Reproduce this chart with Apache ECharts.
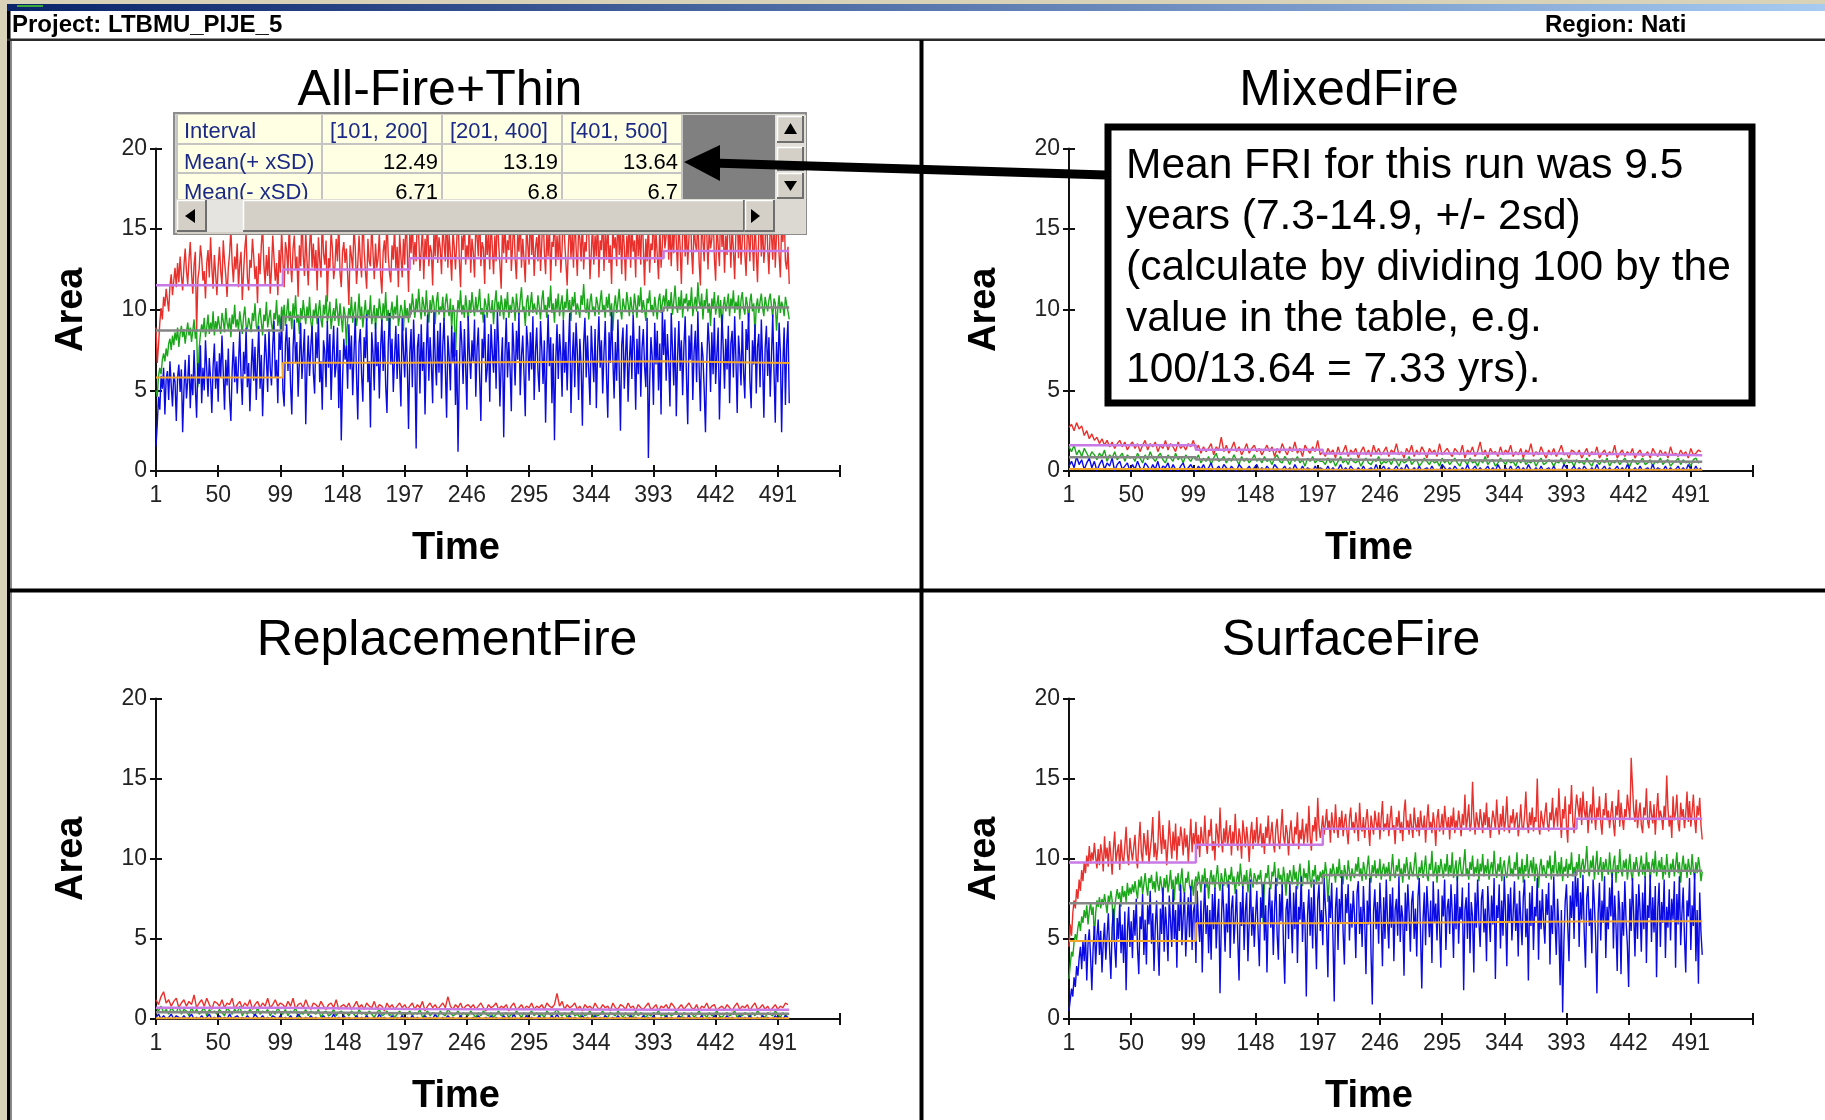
<!DOCTYPE html>
<html><head><meta charset="utf-8">
<script src="https://cdn.jsdelivr.net/npm/echarts@6/dist/echarts.min.js"></script>
<style>html,body{margin:0;padding:0;background:#fff}#c{width:1825px;height:1120px}</style>
</head><body><div id="c"></div>
<script>
// ================= DATA =================
const panelTitles = ['All-Fire+Thin', 'MixedFire', 'ReplacementFire', 'SurfaceFire'];
const xTickLabels = ['1','50','99','148','197','246','295','344','393','442','491'];
const intervalStarts = [1, 101, 201, 401];
const lastYear = 500;
const headerLeft = 'Project: LTBMU_PIJE_5';
const headerRight = 'Region: Nati';
const tableRowLabels = ['Interval', 'Mean(+ xSD)', 'Mean(- xSD)'];
const noteText = 'Mean FRI for this run was 9.5\nyears (7.3-14.9, +/- 2sd)\n(calculate by dividing 100 by the\nvalue in the table, e.g.\n100/13.64 = 7.33 yrs).';

// ---- All-Fire+Thin : one value per year 1..500 ----
const allFireUpper = [
8.9,6.7,7.8,9.2,10.1,9.4,10.8,10.2,11.3,10.6,9.9,11.5,12.2,10.9,11.8,12.6,11.4,12.9,11.7,13.3,12.1,11.2,12.7,13.8,12.4,
11.6,13.1,14.2,12.3,11.0,12.8,13.6,8.6,11.9,12.5,14.0,13.2,11.8,12.4,10.7,12.9,13.7,12.0,14.5,12.6,11.3,13.4,12.2,10.9,12.7,
13.9,12.4,11.5,14.3,13.0,12.1,10.8,12.6,13.5,15.0,12.9,11.7,13.3,12.5,14.1,11.4,12.8,13.6,10.6,12.3,13.8,14.7,12.0,11.2,13.1,
12.6,14.4,13.3,11.9,12.7,10.4,13.5,12.2,14.0,15.2,12.8,11.6,13.4,12.1,13.9,11.0,12.5,14.6,13.2,11.8,12.9,10.9,13.7,12.3,14.9,
13.0,11.4,14.2,13.6,12.2,15.5,12.9,11.7,13.8,14.6,12.5,13.3,10.8,14.0,12.7,15.9,13.4,12.1,14.8,13.0,11.5,13.9,15.3,12.6,14.1,
12.4,13.7,11.2,14.5,13.1,12.0,15.7,13.5,12.8,14.3,10.5,13.2,12.6,14.9,13.8,11.9,12.7,14.4,13.0,15.6,12.3,11.4,13.6,14.2,12.9,
13.8,12.2,10.3,14.0,13.3,12.5,15.1,13.9,11.6,12.8,14.6,13.1,12.0,16.2,13.7,12.4,11.3,14.4,13.0,12.7,15.4,13.5,11.9,14.1,12.6,
13.2,14.8,12.1,11.0,13.6,14.3,12.9,15.8,13.4,12.3,11.7,14.0,13.1,15.2,12.5,13.9,11.4,14.7,13.3,12.0,14.4,12.8,16.0,13.6,11.1,
14.9,13.5,15.6,12.8,14.2,13.0,16.3,14.6,12.4,13.7,15.1,11.9,14.4,13.2,15.9,12.7,14.0,13.6,11.5,14.8,13.3,16.1,12.9,14.5,13.8,
12.2,15.3,14.1,13.0,16.6,12.6,14.7,13.4,11.8,15.0,13.9,12.5,14.3,16.0,13.1,11.4,14.6,13.7,15.5,12.8,14.0,13.2,15.8,12.3,14.4,
13.6,12.0,15.2,14.5,13.3,16.4,12.7,14.2,13.8,11.6,15.0,13.4,14.8,12.5,15.7,13.9,12.2,14.6,13.0,16.2,14.1,12.8,11.3,14.9,13.5,
15.4,12.9,14.3,13.7,16.1,12.4,14.0,15.6,13.2,11.9,14.7,13.6,15.9,12.6,14.4,13.1,11.7,15.2,14.0,12.8,16.5,13.4,14.9,12.1,13.8,
14.5,13.0,15.7,12.4,14.1,16.3,13.6,12.2,14.8,13.3,15.4,11.8,14.2,13.9,16.0,12.7,14.6,13.1,15.1,12.3,13.8,16.7,14.3,12.9,11.5,
14.0,15.5,13.2,14.7,12.6,16.2,13.9,12.1,15.0,14.4,13.0,15.8,12.5,14.2,13.6,16.4,14.9,11.9,13.5,15.3,12.8,14.6,13.3,15.9,12.0,
14.3,13.7,16.1,12.4,14.8,13.1,15.6,12.9,14.0,11.6,15.2,13.8,14.5,12.7,16.3,13.4,14.9,12.2,15.4,13.9,11.8,14.6,13.2,16.0,12.6,
15.1,13.6,14.3,12.0,15.8,13.3,14.7,12.8,16.5,13.9,11.5,14.4,13.0,15.5,12.3,14.1,13.7,16.2,12.9,14.8,13.4,11.9,15.3,12.6,14.0,
15.9,13.8,14.6,16.7,13.1,15.2,12.7,14.9,13.5,16.3,14.2,12.4,15.6,13.9,11.6,14.8,16.1,13.3,15.0,12.8,14.5,16.8,13.7,12.2,15.4,
14.1,13.6,16.0,12.9,11.5,15.7,14.3,13.0,16.5,14.7,12.5,15.2,13.8,14.4,16.2,13.2,11.8,15.5,14.0,12.7,16.6,13.9,15.1,12.3,14.6,
13.4,16.4,14.8,12.6,15.3,13.7,11.9,14.9,16.1,13.2,15.6,12.8,14.3,16.9,13.5,12.1,15.0,14.5,13.0,16.3,14.2,12.4,15.8,13.6,11.7,
14.7,16.0,13.3,15.4,12.9,14.1,16.5,13.8,12.2,15.1,14.6,13.1,16.2,12.6,14.8,15.7,13.4,12.0,15.3,14.2,16.1,13.0,12.5,13.9,11.6];
const allFireMean = [
5.0,4.6,5.9,6.4,6.0,6.9,7.3,6.8,7.6,7.1,7.9,8.2,7.5,8.4,7.8,8.6,8.1,8.9,7.7,8.5,9.0,8.3,8.8,7.9,8.6,
9.2,8.4,8.9,8.0,8.7,9.4,8.2,8.8,5.2,7.6,8.5,9.1,8.6,9.5,8.3,8.9,9.7,8.5,9.2,8.7,9.9,8.4,9.3,8.8,9.6,
9.0,8.5,9.8,9.3,8.6,10.1,9.2,8.8,9.5,8.3,9.7,9.1,10.3,8.9,9.4,8.7,9.9,9.2,8.5,9.6,10.2,9.0,8.8,9.5,9.1,
8.6,9.8,9.3,10.4,9.0,8.7,9.6,10.1,9.2,8.4,9.7,9.3,10.5,8.9,9.5,10.0,9.1,8.6,9.8,9.4,10.6,9.0,9.7,8.8,10.2,
9.5,10.3,9.0,9.8,10.7,9.3,9.9,8.8,10.4,9.6,10.9,9.2,9.7,8.5,10.1,9.4,10.6,9.8,9.1,10.2,9.5,10.8,9.3,8.7,10.0,
9.6,10.4,9.1,9.9,10.6,9.4,8.9,10.3,9.7,10.9,9.2,9.8,10.5,8.8,9.6,10.1,9.3,10.7,9.9,9.0,10.4,9.5,8.6,10.2,9.7,
7.8,9.4,10.1,9.6,10.8,9.2,9.9,10.5,9.0,9.7,11.0,9.4,10.2,8.9,9.8,10.6,9.3,10.0,9.6,10.9,9.1,9.7,10.3,8.8,10.1,
9.5,10.7,9.9,9.2,10.4,9.6,11.1,9.3,10.0,8.6,9.8,10.5,9.4,10.2,9.7,10.9,9.0,9.6,10.3,9.9,8.7,10.6,9.5,10.1,9.2,
10.4,9.7,11.0,10.2,9.5,10.7,9.9,11.3,10.1,9.4,10.8,10.3,9.6,11.2,10.0,9.2,10.6,9.8,10.9,10.4,9.1,10.5,11.1,9.7,10.2,
9.9,10.8,9.3,10.4,11.0,10.1,9.6,10.7,8.8,10.3,9.9,7.1,9.4,10.6,10.0,11.2,9.7,10.3,9.5,10.9,10.1,9.3,10.6,9.8,11.1,
10.2,9.6,10.8,9.9,10.4,11.3,9.7,10.1,9.2,10.7,10.3,9.5,11.0,10.0,9.8,10.6,9.1,10.4,11.2,9.9,10.5,9.6,10.9,10.2,9.4,
10.7,10.0,11.1,9.5,10.3,9.8,10.8,10.4,9.3,11.0,10.1,9.7,10.6,11.4,9.9,10.2,9.0,10.5,10.9,9.6,10.3,11.1,9.8,10.4,10.0,
9.7,10.9,10.2,9.4,10.6,11.2,9.9,10.3,9.5,10.8,10.1,11.5,9.8,10.4,9.2,10.7,10.0,11.0,9.6,10.3,10.9,9.4,10.5,10.1,11.3,
9.9,10.6,9.3,10.8,10.2,11.1,9.7,10.4,10.0,9.5,10.9,10.3,11.6,10.1,9.8,10.7,9.4,10.5,11.0,9.9,10.2,9.6,10.8,10.4,9.7,
10.5,11.2,9.9,10.3,9.5,10.8,10.1,11.0,9.6,10.4,8.7,10.2,10.9,9.8,10.5,11.3,10.0,9.4,10.7,10.2,9.9,11.1,10.4,9.6,10.8,
10.1,9.7,11.0,10.3,9.5,10.9,10.2,11.4,9.8,10.6,10.0,9.3,10.7,10.4,11.2,9.9,10.3,9.6,10.8,10.1,9.4,10.6,11.0,9.8,10.4,
10.9,10.2,11.3,9.9,10.6,10.1,11.1,9.7,10.5,11.5,10.3,9.8,10.8,10.0,11.2,9.5,10.7,10.4,11.0,9.9,10.6,10.2,11.4,9.6,10.3,
10.8,9.9,11.7,10.5,10.1,11.0,9.4,10.6,10.2,11.3,9.8,10.4,9.0,10.7,10.1,11.1,9.7,10.3,10.9,9.5,10.6,8.6,10.2,10.8,9.9,
10.4,11.0,9.6,10.7,10.2,11.2,9.8,10.5,10.0,10.9,9.4,10.6,11.1,10.1,9.7,10.8,10.3,9.2,10.5,11.0,9.9,10.4,8.4,10.2,10.7,
9.8,10.5,11.0,10.1,9.6,10.8,10.3,9.9,10.6,11.0,10.2,9.5,10.7,10.4,8.7,10.1,10.9,9.8,10.5,10.2,9.6,10.8,10.3,9.9,9.4];
const allFireLower = [
1.5,2.9,4.6,3.8,5.9,5.1,6.4,3.5,5.7,6.2,4.4,6.8,5.3,4.0,6.1,5.5,3.1,5.8,6.6,4.9,6.3,2.4,5.0,6.9,4.5,
5.6,7.2,3.9,6.0,4.7,7.5,5.2,3.3,6.7,5.4,7.8,4.2,6.4,5.0,8.1,6.3,4.6,7.0,5.7,3.6,6.5,7.9,5.1,6.8,4.3,
7.3,5.8,8.4,6.1,3.8,6.9,5.3,7.6,4.5,3.1,6.2,8.0,5.5,7.1,4.8,6.6,8.7,5.9,4.1,7.4,6.0,8.9,5.2,6.7,3.7,
6.3,8.2,5.6,7.7,4.4,6.8,9.0,5.1,7.2,3.4,6.1,8.5,7.0,4.9,8.8,6.4,5.3,7.8,9.3,5.8,6.9,4.2,8.6,7.5,9.6,
5.0,4.0,7.9,9.1,6.2,8.3,5.4,3.5,7.6,9.4,6.7,8.0,4.6,6.9,9.2,5.7,7.3,8.8,2.9,6.5,8.4,5.9,7.7,9.0,6.1,
4.8,8.6,7.0,9.5,5.5,6.8,3.8,8.1,7.4,5.2,9.3,6.4,8.5,4.4,7.1,9.0,5.8,6.6,8.9,3.9,7.5,1.9,5.6,8.2,6.9,
7.8,5.1,9.1,6.3,8.4,4.7,7.2,9.6,5.9,3.2,7.9,8.8,6.0,4.3,8.3,7.0,9.7,5.5,6.8,2.7,8.6,7.3,5.0,9.2,6.5,
8.0,4.5,7.6,9.4,6.2,8.7,5.3,3.6,7.8,9.8,6.6,8.2,4.9,7.1,9.0,5.7,8.5,6.3,4.0,9.5,7.4,5.8,8.9,6.7,2.6,
7.3,8.8,5.2,9.4,6.9,1.4,7.7,8.5,4.8,9.1,6.2,8.0,3.5,7.4,9.7,5.6,8.3,6.6,4.2,9.9,7.0,5.3,8.7,6.1,9.2,
4.5,7.8,9.5,6.4,3.3,8.4,7.1,5.0,9.0,6.7,8.6,4.1,7.5,1.2,6.0,9.3,7.9,5.4,8.8,6.5,3.8,9.6,7.2,5.7,8.1,
6.8,9.4,4.6,7.6,8.9,5.9,3.1,8.2,7.0,9.7,5.5,6.3,8.5,4.3,9.1,7.4,6.1,8.8,5.1,9.9,7.7,4.0,6.6,8.3,2.1,
7.2,9.5,5.8,8.0,6.4,3.7,9.2,7.5,5.3,8.7,6.9,9.8,4.7,7.1,8.4,6.0,3.4,9.0,7.8,5.6,8.6,6.3,9.6,4.4,7.3,
8.9,6.2,4.9,9.3,7.6,5.4,8.1,3.0,7.0,9.7,6.5,8.3,4.2,7.9,1.9,6.8,9.1,5.7,8.5,7.2,4.6,9.4,6.1,8.0,5.0,
7.7,9.8,3.6,6.9,8.6,5.2,9.2,7.4,4.4,8.2,6.6,2.8,7.9,9.5,5.8,8.4,6.2,4.1,9.0,7.1,5.5,8.8,3.9,7.5,9.6,
6.4,8.1,4.8,7.3,9.3,5.9,3.3,8.6,6.7,9.9,7.0,4.5,8.0,5.6,9.4,6.3,2.5,7.8,8.9,5.1,7.2,9.1,4.3,6.8,8.4,
5.7,9.7,7.4,3.8,8.2,6.0,9.0,4.6,7.6,8.8,6.5,5.2,9.5,0.8,5.4,8.3,7.1,4.1,9.2,6.6,8.7,5.0,7.9,3.5,10.0,
7.2,9.4,5.6,8.5,6.8,4.0,9.8,7.5,5.3,8.9,3.4,7.0,9.3,6.2,8.1,4.7,7.7,9.6,5.9,2.9,8.4,6.9,9.1,4.4,7.4,
8.7,5.5,9.9,6.4,3.7,8.0,7.1,5.0,2.4,6.7,9.2,7.8,4.9,8.6,6.0,9.5,5.4,7.3,8.9,3.2,6.5,9.7,7.6,5.1,8.2,
6.3,9.0,4.2,7.9,8.7,5.8,9.6,6.9,3.6,8.4,7.2,5.3,9.3,6.1,4.5,8.8,7.5,9.8,5.6,3.9,8.1,6.6,9.1,4.8,7.7,
8.5,5.2,9.4,6.8,3.3,7.6,9.0,5.9,8.3,4.6,7.1,9.7,6.2,3.0,8.0,5.5,9.2,7.4,2.4,6.7,8.9,4.1,7.8,9.3,4.2];
const allFireStepPlus  = [11.52, 12.49, 13.19, 13.64];
const allFireStepMean  = [8.72, 9.55, 9.93, 10.14];
const allFireStepMinus = [5.80, 6.71, 6.80, 6.70];

// ---- MixedFire : one value every 2nd year (1, 3, ... 499) ----
const mixedUpper = [
2.7,2.9,2.5,3.0,2.6,2.8,2.2,2.5,2.0,2.3,1.9,2.1,1.7,2.0,1.6,1.9,1.5,1.8,1.4,1.7,1.9,1.5,1.8,1.3,1.6,
1.8,1.4,1.7,1.2,1.6,1.9,1.3,1.7,1.5,1.8,1.2,1.6,1.4,1.9,1.3,1.7,1.5,1.2,1.8,1.4,1.6,1.3,1.7,1.5,1.9,
1.3,1.6,1.1,1.5,1.2,1.4,1.7,1.0,1.5,1.3,2.1,1.2,1.6,1.1,1.4,1.8,1.2,1.5,1.0,1.3,1.7,1.1,1.4,1.6,1.2,
1.4,1.0,1.3,1.6,1.2,1.5,0.9,1.4,1.1,1.7,1.3,1.0,1.5,1.2,1.8,1.1,1.4,0.9,1.6,1.3,1.1,1.5,1.2,1.9,1.0,
1.2,0.9,1.4,1.1,1.3,0.8,1.5,1.0,1.2,1.6,0.9,1.3,1.1,1.4,0.8,1.2,1.5,1.0,1.3,0.9,1.6,1.1,1.4,1.0,1.2,
1.5,0.9,1.3,1.1,1.7,1.0,1.2,0.8,1.4,1.1,1.6,0.9,1.3,1.0,1.5,1.2,0.8,1.4,1.1,1.3,0.9,1.7,1.0,1.2,1.4,
1.1,0.9,1.4,1.2,1.0,1.6,0.8,1.3,1.1,1.5,0.9,1.2,1.8,1.0,1.3,0.8,1.4,1.1,1.2,0.9,1.5,1.0,1.3,1.1,1.6,
0.9,1.2,1.0,1.4,0.8,1.3,1.1,1.7,0.9,1.2,1.0,1.5,1.1,0.8,1.3,1.0,1.4,0.9,1.2,1.6,1.0,1.1,0.8,1.3,1.2,
1.0,1.3,0.8,1.1,1.4,0.9,1.2,1.0,1.5,0.8,1.1,1.3,0.9,1.2,1.0,1.6,0.8,1.1,1.3,0.9,1.2,1.0,1.4,0.8,1.1,
1.3,0.9,1.0,1.2,0.8,1.4,1.1,0.9,1.3,1.0,1.2,0.8,1.5,1.0,1.1,0.9,1.3,1.0,1.2,0.8,1.4,1.0,1.1,1.3,1.2];
const mixedMean = [
1.5,1.2,1.6,1.0,1.3,0.9,1.4,1.1,0.8,1.2,1.0,0.7,1.1,0.9,1.3,0.6,1.0,0.8,1.2,0.7,0.9,1.1,0.6,1.0,0.8,
0.9,0.6,1.1,0.8,0.5,1.0,0.7,1.2,0.8,0.6,0.9,1.1,0.7,0.5,1.0,0.8,0.6,1.1,0.7,0.9,0.5,1.0,0.8,0.6,0.9,
0.7,1.0,0.5,0.8,0.6,0.9,0.4,0.8,1.1,0.6,0.7,0.9,0.5,0.8,0.6,1.0,0.7,0.4,0.9,0.6,0.8,0.5,0.7,1.0,0.6,
0.8,0.5,0.9,0.6,0.7,0.4,0.8,1.0,0.6,0.5,0.9,0.7,0.4,0.8,0.6,0.9,0.5,0.7,0.3,0.8,0.6,0.9,0.5,0.7,0.6,
0.6,0.4,0.8,0.5,0.7,0.3,0.6,0.9,0.5,0.7,0.4,0.8,0.6,0.5,0.7,0.3,0.6,0.8,0.5,0.4,0.7,0.6,0.9,0.4,0.6,
0.5,0.7,0.4,0.8,0.6,0.3,0.7,0.5,0.6,0.9,0.4,0.6,0.7,0.3,0.5,0.8,0.6,0.4,0.7,0.5,0.6,0.3,0.8,0.5,0.7,
0.4,0.6,0.8,0.5,0.3,0.7,0.6,0.4,0.8,0.5,0.6,0.3,0.7,0.5,0.9,0.4,0.6,0.7,0.3,0.5,0.8,0.6,0.4,0.7,0.5,
0.6,0.3,0.7,0.5,0.8,0.4,0.6,0.5,0.7,0.3,0.6,0.8,0.4,0.5,0.7,0.6,0.3,0.6,0.5,0.8,0.4,0.7,0.5,0.6,0.3,
0.7,0.5,0.6,0.4,0.8,0.5,0.3,0.7,0.6,0.4,0.7,0.5,0.8,0.3,0.6,0.5,0.7,0.4,0.6,0.8,0.5,0.3,0.7,0.6,0.4,
0.6,0.8,0.4,0.5,0.7,0.3,0.6,0.5,0.8,0.4,0.6,0.7,0.3,0.5,0.6,0.8,0.4,0.7,0.5,0.6,0.3,0.7,0.8,0.5,0.6];
const mixedLower = [
0.3,0.6,0.2,0.9,0.4,0.7,0.1,0.5,0.8,0.2,0.6,0.0,0.4,0.7,0.1,0.5,0.3,0.8,0.0,0.4,0.6,0.1,0.3,0.5,0.0,
0.4,0.1,0.6,0.2,0.0,0.5,0.3,0.0,0.4,0.1,0.6,0.0,0.3,0.2,0.5,0.0,0.4,0.1,0.0,0.3,0.5,0.0,0.2,0.4,0.1,
0.0,0.3,0.1,0.4,0.0,0.2,0.5,0.0,0.1,0.3,0.0,0.4,0.2,0.0,0.3,0.1,0.0,0.4,0.2,0.0,0.1,0.3,0.0,0.2,0.4,
0.0,0.2,0.0,0.3,0.1,0.0,0.4,0.2,0.0,0.1,0.3,0.0,0.2,0.0,0.4,0.1,0.0,0.3,0.0,0.2,0.1,0.0,0.3,0.0,0.2,
0.1,0.0,0.3,0.0,0.2,0.0,0.1,0.4,0.0,0.2,0.0,0.3,0.1,0.0,0.2,0.0,0.3,0.0,0.1,0.2,0.0,0.4,0.0,0.1,0.3,
0.0,0.2,0.0,0.1,0.3,0.0,0.2,0.0,0.4,0.1,0.0,0.2,0.0,0.3,0.0,0.1,0.2,0.0,0.3,0.0,0.1,0.0,0.4,0.2,0.0,
0.2,0.0,0.3,0.1,0.0,0.2,0.0,0.4,0.0,0.1,0.3,0.0,0.2,0.0,0.1,0.3,0.0,0.2,0.0,0.4,0.1,0.0,0.2,0.0,0.3,
0.0,0.1,0.3,0.0,0.2,0.0,0.4,0.1,0.0,0.2,0.0,0.3,0.0,0.1,0.2,0.0,0.3,0.0,0.1,0.0,0.4,0.2,0.0,0.1,0.3,
0.0,0.2,0.0,0.3,0.1,0.0,0.2,0.0,0.4,0.0,0.1,0.3,0.0,0.2,0.0,0.1,0.3,0.0,0.2,0.0,0.4,0.1,0.0,0.2,0.0,
0.3,0.0,0.1,0.2,0.0,0.4,0.0,0.2,0.1,0.0,0.3,0.0,0.2,0.0,0.1,0.3,0.0,0.2,0.0,0.4,0.1,0.0,0.3,0.0,0.2];
const mixedStepPlus  = [1.60, 1.32, 1.09, 0.97];
const mixedStepMean  = [0.85, 0.72, 0.62, 0.58];
const mixedStepMinus = [0.12, 0.10, 0.08, 0.08];

// ---- ReplacementFire : one value every 2nd year ----
const replUpper = [
1.2,0.9,1.4,1.7,1.0,1.2,0.8,1.1,1.3,0.7,1.0,1.2,0.8,1.1,0.9,1.5,0.7,1.0,1.2,0.8,1.3,0.9,0.6,1.1,1.0,
0.8,1.2,0.7,1.0,0.9,1.3,0.6,0.9,1.1,0.7,1.0,0.8,1.2,0.6,0.9,1.1,0.7,1.0,0.8,1.3,0.7,0.9,1.2,0.8,1.0,
0.9,0.7,1.1,0.8,1.3,0.6,0.9,1.0,0.7,1.2,0.8,0.6,1.0,0.9,0.7,1.1,0.8,0.6,0.9,1.0,0.7,1.2,0.6,0.8,0.9,
0.7,1.0,0.6,0.8,1.1,0.7,0.9,0.6,1.0,0.8,0.7,1.1,0.6,0.9,0.8,0.5,1.0,0.7,0.9,0.6,0.8,1.0,0.7,0.9,0.6,
0.8,1.0,0.6,0.9,0.7,1.1,0.5,0.8,1.0,0.7,0.9,0.6,0.8,1.0,0.7,1.4,0.8,0.6,0.9,0.7,1.0,0.6,0.8,0.9,0.7,
0.9,0.6,0.8,1.0,0.7,0.5,0.9,0.7,0.8,1.0,0.6,0.8,0.7,0.9,0.5,0.8,1.0,0.6,0.7,0.9,0.6,0.8,0.7,1.0,0.6,
0.8,0.7,0.9,0.6,1.0,0.8,0.7,0.9,1.6,0.8,1.1,0.6,0.9,0.7,0.8,1.0,0.6,0.8,0.5,0.9,0.7,0.8,0.6,1.0,0.7,
0.6,0.9,0.7,0.8,0.5,1.0,0.7,0.6,0.9,0.8,0.6,1.0,0.7,0.8,0.5,0.9,0.7,0.6,0.8,1.0,0.6,0.7,0.9,0.5,0.8,
0.7,0.9,0.6,1.0,0.8,0.5,0.7,0.9,0.6,0.8,1.0,0.7,0.6,0.9,0.5,0.8,0.7,1.0,0.6,0.8,0.9,0.5,0.7,0.8,0.6,
0.9,0.7,0.5,0.8,1.0,0.6,0.8,0.7,0.9,0.5,0.8,1.0,0.6,0.7,0.9,0.6,0.8,0.5,0.7,0.9,0.6,0.8,0.7,1.0,0.9];
const replMean = [
0.7,0.5,0.8,0.4,0.6,0.3,0.7,0.5,0.4,0.8,0.3,0.6,0.5,0.2,0.7,0.4,0.6,0.3,0.5,0.7,0.2,0.6,0.4,0.5,0.3,
0.6,0.4,0.2,0.7,0.5,0.3,0.6,0.4,0.8,0.2,0.5,0.3,0.6,0.4,0.2,0.7,0.3,0.5,0.4,0.6,0.2,0.5,0.3,0.7,0.4,
0.3,0.6,0.2,0.5,0.4,0.7,0.1,0.4,0.3,0.6,0.2,0.5,0.4,0.3,0.6,0.1,0.4,0.5,0.2,0.3,0.6,0.2,0.4,0.5,0.3,
0.4,0.2,0.5,0.3,0.1,0.6,0.3,0.4,0.2,0.5,0.3,0.1,0.4,0.6,0.2,0.3,0.5,0.2,0.4,0.1,0.3,0.5,0.2,0.4,0.3,
0.5,0.2,0.4,0.3,0.6,0.1,0.3,0.5,0.2,0.4,0.3,0.1,0.5,0.3,0.2,0.6,0.4,0.2,0.3,0.5,0.1,0.4,0.3,0.2,0.5,
0.3,0.1,0.4,0.2,0.5,0.3,0.2,0.4,0.1,0.3,0.5,0.2,0.3,0.4,0.1,0.3,0.2,0.5,0.3,0.1,0.4,0.2,0.3,0.5,0.2,
0.4,0.2,0.3,0.1,0.5,0.3,0.2,0.4,0.6,0.3,0.2,0.4,0.1,0.3,0.5,0.2,0.3,0.1,0.4,0.2,0.3,0.5,0.1,0.3,0.2,
0.3,0.5,0.2,0.1,0.4,0.3,0.2,0.5,0.3,0.1,0.4,0.2,0.3,0.1,0.5,0.2,0.4,0.3,0.1,0.3,0.2,0.4,0.3,0.5,0.2,
0.3,0.1,0.4,0.2,0.3,0.5,0.2,0.1,0.4,0.3,0.2,0.4,0.1,0.3,0.5,0.2,0.3,0.1,0.4,0.2,0.3,0.5,0.2,0.1,0.3,
0.4,0.2,0.3,0.5,0.1,0.3,0.2,0.4,0.3,0.1,0.4,0.2,0.5,0.3,0.2,0.1,0.4,0.3,0.2,0.5,0.3,0.1,0.4,0.2,0.3];
const replLower = [
0.1,0.3,0.0,0.2,0.0,0.1,0.3,0.0,0.2,0.1,0.0,0.2,0.0,0.1,0.3,0.0,0.1,0.0,0.2,0.0,0.1,0.3,0.0,0.1,0.0,
0.2,0.0,0.1,0.0,0.3,0.0,0.1,0.2,0.0,0.1,0.0,0.2,0.0,0.0,0.3,0.1,0.0,0.2,0.0,0.1,0.0,0.2,0.1,0.0,0.2,
0.0,0.1,0.0,0.2,0.0,0.0,0.3,0.1,0.0,0.1,0.0,0.2,0.0,0.1,0.0,0.0,0.2,0.0,0.1,0.0,0.3,0.0,0.1,0.0,0.2,
0.0,0.1,0.0,0.0,0.2,0.0,0.1,0.0,0.2,0.0,0.0,0.1,0.0,0.3,0.0,0.1,0.0,0.0,0.2,0.0,0.1,0.0,0.2,0.0,0.1,
0.0,0.2,0.0,0.1,0.0,0.0,0.2,0.0,0.1,0.0,0.3,0.0,0.0,0.1,0.0,0.2,0.0,0.1,0.0,0.0,0.2,0.0,0.1,0.0,0.0,
0.1,0.0,0.2,0.0,0.0,0.1,0.0,0.2,0.0,0.1,0.0,0.0,0.2,0.0,0.1,0.0,0.3,0.0,0.0,0.1,0.0,0.2,0.0,0.1,0.0,
0.0,0.2,0.0,0.1,0.0,0.0,0.2,0.0,0.3,0.0,0.1,0.0,0.0,0.2,0.0,0.1,0.0,0.0,0.2,0.0,0.1,0.0,0.0,0.2,0.0,
0.1,0.0,0.2,0.0,0.0,0.1,0.0,0.2,0.0,0.0,0.1,0.0,0.2,0.0,0.1,0.0,0.0,0.2,0.0,0.1,0.0,0.2,0.0,0.0,0.1,
0.0,0.2,0.0,0.1,0.0,0.0,0.2,0.0,0.1,0.0,0.2,0.0,0.0,0.1,0.0,0.2,0.0,0.0,0.1,0.0,0.2,0.0,0.1,0.0,0.0,
0.2,0.0,0.1,0.0,0.0,0.2,0.0,0.1,0.0,0.2,0.0,0.0,0.1,0.0,0.2,0.0,0.1,0.0,0.0,0.2,0.0,0.1,0.0,0.2,0.1];
const replStepPlus  = [0.70, 0.63, 0.57, 0.57];
const replStepMean  = [0.42, 0.36, 0.32, 0.32];
const replStepMinus = [0.05, 0.04, 0.04, 0.04];

// ---- SurfaceFire : one value per year 1..500 ----
const surfUpper = [
4.5,5.9,5.2,6.6,7.4,6.9,8.1,7.5,8.7,8.0,9.3,8.6,9.8,9.1,10.2,9.5,10.8,9.7,10.4,9.9,11.0,10.1,9.4,10.6,9.6,
10.9,10.3,9.2,11.4,10.0,10.7,9.5,11.1,10.2,9.0,10.6,11.7,9.8,10.4,10.9,9.3,11.2,10.1,9.7,10.8,12.0,10.3,9.6,11.3,10.5,
9.9,10.7,11.5,10.0,9.4,11.0,12.3,10.4,9.8,11.6,10.9,10.2,11.8,9.7,10.5,11.3,12.6,10.1,11.0,9.9,10.7,13.0,11.4,10.3,12.1,
10.6,11.2,9.6,10.9,12.4,11.1,10.0,11.7,10.5,12.2,9.9,11.4,10.8,12.0,11.3,10.2,11.9,10.7,11.5,9.8,11.1,12.5,10.4,11.6,10.9,
12.3,10.6,11.5,10.1,12.0,11.2,10.8,12.7,11.0,10.3,11.8,11.4,12.5,10.5,11.1,9.9,12.2,11.6,10.7,13.2,11.3,10.4,11.9,11.0,12.4,
10.8,11.5,12.1,10.2,11.7,10.9,12.8,11.2,10.5,11.9,11.3,10.0,12.4,11.6,10.7,12.0,11.1,9.8,11.5,12.3,10.6,11.8,11.0,12.6,10.9,
11.4,12.2,10.7,11.6,10.3,12.0,11.3,12.7,10.8,11.5,12.3,11.0,10.4,11.9,12.5,11.2,10.6,11.8,13.1,11.4,10.9,12.1,11.6,10.2,11.7,
12.4,11.1,10.8,12.0,11.5,12.9,10.6,11.8,11.2,12.5,10.9,11.6,12.2,11.0,13.3,11.4,10.5,12.1,11.7,12.6,11.1,13.8,12.0,11.3,11.9,
12.7,11.5,12.2,13.1,11.8,12.4,11.0,12.9,12.1,11.6,13.4,12.0,11.3,12.6,11.9,13.0,11.4,12.3,12.8,11.7,10.9,12.5,13.2,11.8,12.3,
11.6,12.9,12.2,11.1,13.5,12.0,11.7,12.6,11.3,12.4,13.1,11.9,10.8,12.7,12.1,11.5,13.0,12.3,11.8,12.9,11.2,12.5,13.6,11.7,12.2,
11.9,12.8,11.4,12.5,13.3,11.8,12.1,10.9,12.6,12.0,13.0,11.6,12.3,11.1,12.9,13.7,11.9,12.4,11.5,12.8,12.0,11.3,13.2,12.2,11.7,
12.6,11.4,13.0,12.1,11.8,12.7,11.0,12.4,13.4,11.9,12.3,11.6,12.9,12.2,10.8,12.5,13.1,11.7,12.0,12.8,11.5,13.3,12.4,11.9,12.6,
11.2,12.7,12.0,13.2,11.6,12.4,11.9,13.0,12.3,11.4,12.8,12.1,14.0,11.8,12.5,13.4,11.7,12.2,14.8,12.6,11.5,12.9,12.3,11.8,13.1,
12.4,11.6,12.9,12.1,13.5,11.9,12.6,11.3,12.2,13.0,12.5,11.8,13.7,12.3,11.5,12.8,12.0,13.3,11.7,12.4,13.9,12.1,11.6,12.7,12.2,
13.1,11.9,12.5,12.9,11.4,12.2,13.4,12.0,11.8,12.7,14.2,12.3,11.6,12.9,12.1,13.2,11.7,12.6,12.3,15.0,12.0,11.5,13.0,12.4,11.9,
12.8,13.5,12.2,11.7,12.9,12.4,13.8,11.9,12.6,13.2,12.0,14.4,12.7,11.3,13.1,12.5,13.9,12.1,11.0,13.4,12.8,14.6,12.3,11.6,12.9,
14.0,13.3,12.6,13.8,12.1,14.2,13.0,12.5,13.6,11.6,12.8,13.4,12.2,14.5,12.9,11.8,13.2,12.6,13.9,12.3,11.5,13.1,12.7,14.1,12.4,
13.0,11.9,12.8,13.6,12.2,11.4,13.3,12.7,14.3,12.0,13.5,12.5,11.8,13.1,12.6,14.0,13.2,12.4,16.3,14.6,13.0,12.3,13.7,11.9,12.8,
13.5,12.1,11.6,13.2,12.7,14.4,12.3,11.9,13.6,12.8,12.2,13.4,11.5,12.9,14.1,12.4,13.0,12.6,11.8,13.3,12.5,15.2,13.1,12.0,12.7,
11.3,13.9,12.4,12.9,14.0,12.2,11.7,13.5,12.6,13.1,11.9,12.8,14.2,12.3,13.6,12.0,12.9,14.0,12.5,11.6,13.3,12.7,13.8,12.1,11.2];
const surfMean = [
2.5,3.4,4.2,3.9,4.8,5.3,4.9,5.7,6.1,5.5,6.4,6.0,6.8,6.3,7.1,5.9,6.7,7.3,6.5,7.0,5.0,6.6,7.4,7.0,7.6,
6.9,7.5,7.1,7.8,7.2,6.6,7.7,7.3,8.0,7.4,4.8,6.9,7.6,8.1,7.5,7.9,7.0,8.3,7.6,8.0,7.3,8.5,7.7,8.2,7.8,
8.4,7.9,8.6,8.0,7.5,8.7,8.2,8.9,7.8,8.4,9.1,8.3,7.7,8.8,8.5,9.0,8.1,8.6,7.9,9.2,8.4,8.0,8.9,8.3,7.6,
8.8,8.2,9.0,7.9,8.5,9.3,8.1,8.7,7.4,8.9,8.4,9.1,8.0,8.6,9.4,8.2,7.8,8.8,8.5,9.2,8.3,8.0,8.7,7.7,8.5,
8.9,8.3,9.2,8.6,7.9,9.0,8.5,9.4,8.2,8.8,7.5,8.7,9.3,8.4,9.0,8.1,8.9,9.6,8.5,8.0,9.1,8.6,8.3,9.4,8.8,
8.2,9.0,8.7,9.5,8.4,8.9,7.8,8.6,9.2,8.3,9.7,8.8,8.1,9.0,8.5,9.3,7.9,8.7,9.4,8.6,8.2,9.1,8.8,8.4,9.0,
8.7,9.3,8.2,6.0,8.4,9.1,8.8,9.6,8.5,8.1,9.2,8.9,9.8,8.6,8.3,9.4,8.7,9.0,8.2,9.5,8.8,7.7,9.1,8.5,9.3,
8.9,8.4,9.6,8.7,9.2,8.1,9.0,9.7,8.6,8.3,9.4,8.8,9.1,8.5,9.9,8.7,8.2,9.3,8.9,9.6,8.4,9.0,8.6,9.2,8.8,
9.3,8.7,9.8,9.1,7.3,8.6,9.4,8.9,9.7,9.2,8.5,9.5,9.0,10.0,8.8,9.3,8.4,9.6,9.1,8.7,9.9,9.2,8.6,9.4,9.0,
8.8,9.7,9.2,10.1,8.9,9.4,8.6,9.8,9.3,8.7,9.5,10.2,9.0,8.5,9.6,9.1,9.9,8.8,9.4,9.0,10.0,8.7,9.3,9.7,8.9,
9.5,9.0,9.8,8.6,9.3,10.3,9.1,8.8,9.6,9.2,10.0,8.9,9.4,8.5,9.7,9.1,10.1,9.3,8.7,9.8,9.2,8.9,9.6,10.4,9.0,
8.7,9.5,9.1,9.9,8.8,9.4,10.2,9.0,8.6,9.7,9.3,10.5,8.9,9.2,9.8,8.5,9.6,9.1,10.0,9.4,8.8,9.7,9.2,10.3,8.9,
9.6,9.1,10.4,8.8,9.3,9.9,8.6,9.5,10.1,9.2,8.9,9.7,10.6,9.0,9.4,8.7,9.8,9.3,10.2,8.9,9.5,9.1,10.0,8.6,9.7,
9.2,10.3,8.9,9.6,9.1,10.0,8.7,9.4,9.8,9.0,10.5,9.3,8.8,9.7,9.2,10.1,8.6,9.5,9.9,9.1,8.8,9.6,10.2,9.0,9.4,
8.9,9.8,9.3,10.4,8.7,9.5,9.0,10.0,8.5,9.6,9.2,10.3,8.8,9.4,9.9,9.1,10.1,8.6,9.7,9.3,8.2,9.5,10.0,9.0,9.6,
9.2,8.8,9.9,9.4,10.2,8.7,9.6,9.1,10.5,9.3,8.9,9.8,9.0,10.1,8.6,9.5,9.2,10.0,8.8,9.7,9.3,10.4,8.9,9.5,9.1,
9.8,9.2,10.3,8.8,9.6,10.0,9.1,9.7,10.8,9.3,8.9,9.9,9.4,10.2,8.7,9.6,10.5,9.0,9.5,10.1,8.6,9.8,9.2,10.0,9.4,
9.0,10.4,9.3,8.8,9.7,10.2,8.5,9.6,9.1,10.6,9.3,8.9,9.9,9.4,10.0,8.7,9.5,10.3,9.1,8.6,9.8,9.2,10.1,9.5,8.9,
9.6,10.2,9.0,9.7,8.8,10.4,9.3,9.8,8.6,9.5,10.0,9.1,10.5,8.9,9.4,9.9,9.2,10.1,8.7,9.6,9.0,10.3,9.4,8.8,9.7,
9.3,10.0,8.9,9.6,10.4,9.1,9.8,8.5,9.5,10.2,9.2,9.7,8.8,10.0,9.4,9.0,10.3,9.3,8.7,9.8,9.1,10.1,9.5,8.6,9.2];
const surfLower = [
0.5,1.2,1.9,1.4,2.6,2.0,3.3,2.7,3.8,4.5,3.1,4.9,3.6,5.3,2.4,4.7,5.6,3.9,1.8,4.4,5.8,3.4,5.1,6.2,4.0,
5.5,2.9,4.8,6.0,3.7,5.2,6.6,4.3,2.5,5.7,6.9,4.6,3.2,6.3,5.0,7.3,4.1,5.9,3.5,6.7,1.8,5.4,7.0,4.5,6.1,
3.8,6.8,5.2,7.5,4.4,2.8,6.4,5.6,7.8,4.0,6.2,3.4,7.1,5.9,8.0,4.7,6.6,3.0,5.8,7.4,4.9,2.7,6.9,5.3,8.2,
4.2,7.0,5.7,3.6,7.7,6.1,4.5,8.1,5.0,6.8,3.2,7.3,5.5,8.4,4.6,6.4,7.9,3.9,6.0,7.6,5.1,8.3,4.3,6.7,7.2,
3.5,8.0,6.1,4.8,7.4,2.9,6.5,8.5,5.3,7.1,4.1,6.8,3.7,7.8,5.6,8.2,4.4,6.3,7.5,1.6,5.9,8.4,6.6,4.2,7.2,
5.4,8.6,3.8,6.9,7.7,4.7,6.2,8.1,5.0,2.4,7.3,5.8,8.3,4.3,6.7,7.9,3.6,6.0,8.7,5.2,7.0,4.5,6.4,8.0,5.5,
3.3,7.6,6.3,8.5,4.9,7.1,2.9,6.6,8.2,5.7,7.4,4.0,6.9,8.8,5.3,3.7,7.8,6.1,8.4,4.6,2.2,6.8,7.5,5.0,8.6,
6.4,4.1,7.9,5.6,8.3,3.5,7.0,6.2,8.9,4.8,7.3,5.9,1.4,6.5,8.1,5.2,7.6,4.4,8.7,6.0,3.1,7.4,8.4,5.5,6.8,
4.6,8.8,7.1,5.8,2.6,7.7,6.3,8.5,5.1,1.1,6.9,8.2,4.3,7.5,6.0,8.9,5.4,3.4,7.8,6.6,8.4,4.9,7.2,5.7,8.0,
6.5,3.8,7.9,8.6,5.3,7.0,4.5,8.3,6.2,2.8,7.4,5.9,8.8,4.1,0.9,6.7,8.1,5.6,7.3,4.7,8.5,6.4,3.3,7.6,5.0,
8.7,6.1,4.4,7.8,5.7,8.2,3.6,6.8,7.5,5.2,8.9,4.8,7.1,6.3,2.7,7.9,5.5,8.4,6.6,4.2,7.3,8.0,5.0,6.9,3.9,
7.6,8.8,5.4,1.9,6.2,7.9,4.6,8.3,6.7,5.1,7.4,3.5,8.6,6.0,7.2,4.9,8.1,5.8,3.2,7.7,6.4,8.7,4.3,6.9,7.5,
5.3,8.4,6.6,3.8,7.8,5.6,8.9,4.7,7.0,6.2,8.2,1.8,6.8,7.6,5.0,8.5,4.1,7.3,6.4,2.9,7.9,5.7,8.7,6.1,4.5,
7.5,8.1,5.4,6.9,3.6,8.3,6.5,4.8,7.7,5.9,8.8,2.5,7.1,6.3,8.4,4.4,7.4,5.2,8.9,6.7,3.3,7.8,6.0,8.2,4.9,
6.6,8.6,5.5,7.2,3.9,8.0,6.2,4.6,7.6,8.7,5.1,6.9,2.4,7.9,5.8,8.3,4.3,7.0,6.4,8.8,3.7,7.4,5.6,8.1,6.0,
4.7,7.8,6.5,8.5,3.4,7.1,5.3,8.9,6.1,4.0,7.5,5.7,2.1,6.8,0.4,4.8,7.3,8.4,5.9,3.6,7.7,6.3,8.6,5.0,9.2,
7.0,8.8,4.5,7.9,6.2,9.0,5.4,3.2,7.6,8.3,5.8,6.9,4.1,8.7,7.2,5.1,1.6,6.6,8.5,4.9,7.4,6.0,8.9,3.8,7.0,
5.6,8.2,6.4,9.1,4.4,7.7,5.9,3.0,8.0,6.8,2.8,7.3,5.2,8.6,6.1,4.6,2.0,7.5,5.5,8.8,6.5,3.9,7.8,5.0,8.4,
6.7,4.2,7.9,5.6,8.9,3.5,7.1,6.3,9.0,4.8,7.6,5.4,8.3,2.6,6.9,8.5,4.5,7.3,6.0,8.7,3.8,7.0,5.7,8.1,4.9,
7.5,6.2,8.6,3.2,7.8,5.9,8.9,4.6,6.6,8.2,5.1,2.9,7.4,6.4,8.8,4.3,7.1,5.8,9.1,3.6,6.8,2.2,7.9,5.4,4.0];
const surfStepPlus  = [9.76, 10.88, 11.87, 12.50];
const surfStepMean  = [7.22, 8.49, 8.98, 9.25];
const surfStepMinus = [4.86, 5.98, 6.08, 6.10];

// ================= BUILD =================
const FONT = '"Liberation Sans", Arial, Helvetica, sans-serif';
const panels = [
  { every: 1, upper: allFireUpper, mean: allFireMean, lower: allFireLower, plus: allFireStepPlus, avg: allFireStepMean, minus: allFireStepMinus },
  { every: 2, upper: mixedUpper, mean: mixedMean, lower: mixedLower, plus: mixedStepPlus, avg: mixedStepMean, minus: mixedStepMinus },
  { every: 2, upper: replUpper, mean: replMean, lower: replLower, plus: replStepPlus, avg: replStepMean, minus: replStepMinus },
  { every: 1, upper: surfUpper, mean: surfMean, lower: surfLower, plus: surfStepPlus, avg: surfStepMean, minus: surfStepMinus }
];
const layout = [
  { grid: { left: 156, top: 148.5, width: 684, height: 322.5 }, tx: 440, ty: 66.5 },
  { grid: { left: 1069, top: 148.5, width: 684, height: 322.5 }, tx: 1349, ty: 66.5 },
  { grid: { left: 156, top: 698.5, width: 684, height: 320.5 }, tx: 447, ty: 616.5 },
  { grid: { left: 1069, top: 698.5, width: 684, height: 320.5 }, tx: 1351, ty: 616.5 }
];
const COL = { upper: '#e8302c', mean: '#1aa81a', lower: '#0a0ae4', plus: '#c87ae6', avg: '#858585', minus: '#f2a428' };

// x axis value = year - 1, so that ticks land on years 1, 50, 99, ...
function noisePts(arr, every) { return arr.map((v, i) => [(1 + i * every) - 1, v]); }
function stepPts(vals) {
  const d = vals.map((v, i) => [intervalStarts[i] - 1, v]);
  d.push([lastYear - 1, vals[vals.length - 1]]);
  return d;
}

const grids = [], xAxes = [], yAxes = [], titles = [], series = [];
const axisColor = '#111';
layout.forEach((L, g) => {
  grids.push(Object.assign({ containLabel: false, outerBoundsMode: 'none' }, L.grid));
  titles.push({ text: panelTitles[g], left: L.tx, top: L.ty, textAlign: 'center', padding: 0,
    textStyle: { fontFamily: FONT, fontSize: 50, fontWeight: 'normal', color: '#000' } });
  xAxes.push({ type: 'value', gridIndex: g, min: 0, max: 539, interval: 49, position: 'bottom',
    axisLine: { show: true, onZero: false, lineStyle: { color: axisColor, width: 2 } },
    axisTick: { show: true, length: 6, lineStyle: { color: axisColor, width: 2 } },
    axisLabel: { margin: 13, fontFamily: FONT, fontSize: 23, color: '#222',
      formatter: v => { const k = Math.round(v / 49); return xTickLabels[k] !== undefined ? xTickLabels[k] : ''; } },
    splitLine: { show: false },
    name: 'Time', nameLocation: 'middle', nameGap: 59,
    nameTextStyle: { fontFamily: FONT, fontSize: 38, fontWeight: 'bold', color: '#000', padding: [0, 84, 0, 0] } });
  yAxes.push({ type: 'value', gridIndex: g, min: 0, max: 20, interval: 5, position: 'left',
    axisLine: { show: true, onZero: false, lineStyle: { color: axisColor, width: 2 } },
    axisTick: { show: true, length: 6, lineStyle: { color: axisColor, width: 2 } },
    axisLabel: { margin: 9, fontFamily: FONT, fontSize: 23, color: '#222' },
    splitLine: { show: false },
    name: 'Area', nameLocation: 'middle', nameGap: 65, nameRotate: 90,
    nameTextStyle: { fontFamily: FONT, fontSize: 38, fontWeight: 'bold', color: '#000' } });
});
// inner halves of the crossing ticks
layout.forEach((L, g) => {
  xAxes.push({ type: 'value', gridIndex: g, min: 0, max: 539, interval: 49, position: 'bottom',
    axisLine: { show: false }, axisLabel: { show: false }, splitLine: { show: false },
    axisTick: { show: true, inside: true, length: 6, lineStyle: { color: axisColor, width: 2 } } });
  yAxes.push({ type: 'value', gridIndex: g, min: 0, max: 20, interval: 5, position: 'left',
    axisLine: { show: false }, axisLabel: { show: false }, splitLine: { show: false },
    axisTick: { show: true, inside: true, length: 6, lineStyle: { color: axisColor, width: 2 } } });
});
panels.forEach((P, g) => {
  const base = { type: 'line', xAxisIndex: g, yAxisIndex: g, symbol: 'none', silent: true, animation: false };
  series.push(Object.assign({}, base, { name: 'upper', data: noisePts(P.upper, P.every), lineStyle: { color: COL.upper, width: 1.4 } }));
  series.push(Object.assign({}, base, { name: 'mean', data: noisePts(P.mean, P.every), lineStyle: { color: COL.mean, width: 1.4 } }));
  series.push(Object.assign({}, base, { name: 'lower', data: noisePts(P.lower, P.every), lineStyle: { color: COL.lower, width: 1.4 } }));
  series.push(Object.assign({}, base, { name: 'mean+xSD', step: 'end', data: stepPts(P.plus), lineStyle: { color: COL.plus, width: 2.5 } }));
  series.push(Object.assign({}, base, { name: 'mean', step: 'end', data: stepPts(P.avg), lineStyle: { color: COL.avg, width: 2.5 } }));
  series.push(Object.assign({}, base, { name: 'mean-xSD', step: 'end', data: stepPts(P.minus), lineStyle: { color: COL.minus, width: 2 } }));
});

// ---------- graphic chrome ----------
const G = [];
const rect = (x, y, w, h, fill, z, extra) => G.push(Object.assign({ type: 'rect', z: z || 1, silent: true, shape: { x, y, width: w, height: h }, style: { fill } }, extra || {}));
const line = (x1, y1, x2, y2, stroke, lw, z) => G.push({ type: 'line', z: z || 1, silent: true, shape: { x1, y1, x2, y2 }, style: { stroke, lineWidth: lw } });
const text = (t, x, y, opts, z) => G.push({ type: 'text', z: z || 1, silent: true, style: Object.assign({ text: t, x, y, fontFamily: FONT, fill: '#000', textVerticalAlign: 'middle' }, opts) });
const tri = (pts, z) => G.push({ type: 'polygon', z: z, silent: true, shape: { points: pts }, style: { fill: '#000' } });
function button(x, y, w, h, z) {
  rect(x, y, w, h, '#d4d0c8', z);
  line(x, y + 0.5, x + w, y + 0.5, '#ffffff', 1.5, z);
  line(x + 0.5, y, x + 0.5, y + h, '#ffffff', 1.5, z);
  line(x, y + h - 1, x + w, y + h - 1, '#6e6e6e', 2, z);
  line(x + w - 1, y, x + w - 1, y + h, '#6e6e6e', 2, z);
}

// window frame
rect(0, 0, 1825, 4, '#d8d2b9', 1);
rect(0, 0, 7, 1120, '#d8d2b9', 1);
G.push({ type: 'rect', z: 1, silent: true, shape: { x: 7, y: 4, width: 1818, height: 7 },
  style: { fill: new echarts.graphic.LinearGradient(0, 0, 1, 0, [{ offset: 0, color: '#0a246a' }, { offset: 1, color: '#a6caf0' }]) } });
rect(17, 5, 26, 2, '#3aa83a', 2);
rect(7, 11, 3.5, 1109, '#000', 2);
rect(10.5, 40, 1.5, 1080, '#8a8a8a', 2);
rect(7, 38.5, 1818, 2.5, '#2a2a2a', 2);
text(headerLeft, 12, 25, { fontSize: 24, fontWeight: 'bold' }, 3);
text(headerRight, 1545, 25, { fontSize: 24, fontWeight: 'bold' }, 3);
rect(919.5, 40, 4, 1080, '#000', 2);
rect(7, 588.5, 1818, 4, '#000', 2);

// ---------- interval table (All-Fire+Thin) ----------
const colEdges = [177, 322, 442, 562, 682];
const TZ = 50;
rect(174, 113, 632, 121, '#d4d0c8', TZ, { style: { fill: '#d4d0c8', stroke: '#8c8c8c', lineWidth: 2 } });
rect(177, 115, 505, 84, '#ffffe4', TZ);
rect(682, 115, 93, 84, '#808080', TZ);
[322, 442, 562, 682].forEach(x => line(x, 115, x, 199, '#c4c4c4', 2, TZ));
[144, 173].forEach(y => line(177, y, 682, y, '#c4c4c4', 2, TZ));
line(177, 115, 177, 199, '#c4c4c4', 2, TZ);
const tableRows = [
  [tableRowLabels[0]].concat(intervalStarts.slice(1).map((s, i) => '[' + s + ', ' + ((intervalStarts[i + 2] || lastYear + 1) - 1) + ']')),
  [tableRowLabels[1]].concat(allFireStepPlus.slice(1).map(String)),
  [tableRowLabels[2]].concat(allFireStepMinus.slice(1).map(String))
];
const rowTextY = [132, 162.5, 192.5];
tableRows.forEach((row, r) => {
  const yc = rowTextY[r];
  row.forEach((cell, c) => {
    if (c === 0) text(cell, 184, yc, { fontSize: 22, fill: '#1b2a86' }, TZ + 1);
    else if (r === 0) text(cell, colEdges[c] + 8, yc, { fontSize: 22, fill: '#1b2a86' }, TZ + 1);
    else text(cell, colEdges[c + 1] - 4, yc, { fontSize: 22, fill: '#000', textAlign: 'right' }, TZ + 1);
  });
});
// scrollbars
const SZ = TZ + 2;
rect(775, 115, 31, 84, '#e2dfd8', SZ);
button(777, 116, 27, 27, SZ); tri([[790.5, 123], [784, 134], [797, 134]], SZ);
button(777, 147, 27, 24, SZ);
button(777, 173, 27, 26, SZ); tri([[784, 181], [797, 181], [790.5, 191]], SZ);
rect(177, 199, 629, 35, '#d4d0c8', SZ);
rect(207, 200, 36, 32, '#e6e4e0', SZ);
button(177, 200, 30, 32, SZ); tri([[185, 216], [195, 209], [195, 223]], SZ);
button(243, 200, 502, 32, SZ);
button(745, 200, 30, 32, SZ); tri([[760, 216], [751, 209], [751, 223]], SZ);
rect(775, 199, 31, 35, '#dcd9d2', SZ);

// ---------- arrow + note box ----------
const AZ = 60;
line(712, 163, 1106, 175, '#000', 9, AZ);
tri([[684, 162], [720, 145], [720, 181]], AZ);
G.push({ type: 'rect', z: AZ, silent: true, shape: { x: 1108, y: 127, width: 644, height: 276 }, style: { fill: '#fff', stroke: '#000', lineWidth: 7 } });
text(noteText, 1126, 141, { fontSize: 42.5, lineHeight: 51, textVerticalAlign: 'top' }, AZ + 1);

const chart = echarts.init(document.getElementById('c'), null, { renderer: 'canvas', width: 1825, height: 1120 });
chart.setOption({
  animation: false,
  backgroundColor: '#ffffff',
  title: titles,
  grid: grids,
  xAxis: xAxes,
  yAxis: yAxes,
  series: series,
  graphic: { elements: G }
});
</script>
</body></html>
